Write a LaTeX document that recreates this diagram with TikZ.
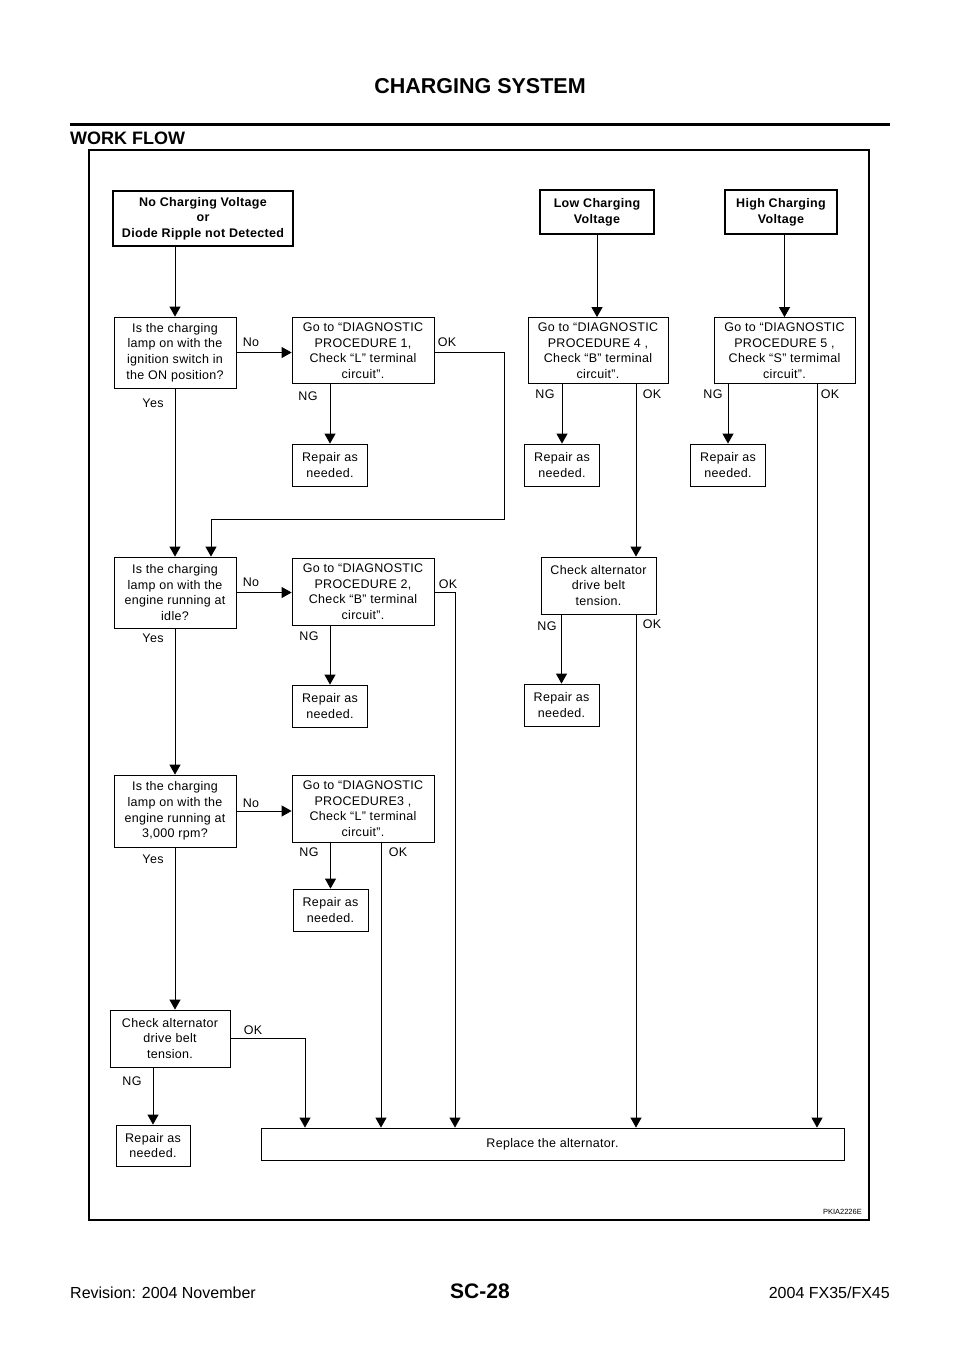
\documentclass[tikz,border=0pt]{standalone}
\usepackage{fontspec}
\setmainfont{Liberation Sans}
\newfontfamily\flowfont[LetterSpace=2.5]{Liberation Sans}
\usetikzlibrary{arrows.meta,calc}
\tikzset{pin/.style={-{Triangle[length=10pt,width=11pt]}, line width=0.9pt},
  blk/.style={draw, line width=0.8pt, align=center, inner sep=1pt,
    font=\flowfont\fontsize{12.5}{15.6}\selectfont},
  topblk/.style={blk, line width=2pt, font=\flowfont\bfseries\fontsize{12.5}{15.6}\selectfont},
  lbl/.style={inner sep=0pt, font=\flowfont\fontsize{12.5}{15}\selectfont}}

\begin{document}
\begin{tikzpicture}[x=1pt,y=-1pt]
  \useasboundingbox (0,0) rectangle (960,1358);
  % page head and frame
  \node[font=\bfseries\fontsize{21.5}{24}\selectfont] (head) at (480,86) {CHARGING SYSTEM};
  \draw[line width=3pt] (70,124) -- (890,124);
  \node[anchor=west, inner sep=0pt, font=\bfseries\fontsize{18}{20}\selectfont] (wf) at (70,138) {WORK FLOW};
  \draw[line width=1.8pt] (89,150) rectangle (869,1220);
  % symptoms
  \node[topblk, minimum width=180, minimum height=55] (A) at (203,218.5) {No Charging Voltage\\or\\Diode Ripple not Detected};
  \node[topblk, minimum width=114, minimum height=44] (B) at (597,212) {Low Charging\\Voltage};
  \node[topblk, minimum width=112, minimum height=44] (C) at (781,212) {High Charging\\Voltage};
  % first row
  \node[blk, minimum width=122, minimum height=71] (Q1) at (175,352.5) {Is the charging\\lamp on with the\\ignition switch in\\the ON position?};
  \node[blk, minimum width=142, minimum height=66] (P1) at (363,350.5) {Go to “DIAGNOSTIC\\PROCEDURE 1,\\Check “L” terminal\\circuit”.};
  \node[blk, minimum width=140, minimum height=66] (P4) at (598,350.5) {Go to “DIAGNOSTIC\\PROCEDURE 4 ,\\Check “B” terminal\\circuit”.};
  \node[blk, minimum width=141, minimum height=66] (P5) at (784.5,350.5) {Go to “DIAGNOSTIC\\PROCEDURE 5 ,\\Check “S” termimal\\circuit”.};
  \node[blk, minimum width=75, minimum height=42] (R1) at (330,465) {Repair as\\needed.};
  \node[blk, minimum width=75, minimum height=42] (R4) at (562,465) {Repair as\\needed.};
  \node[blk, minimum width=75, minimum height=42] (R5) at (728,465) {Repair as\\needed.};
  % second row
  \node[blk, minimum width=122, minimum height=71] (Q2) at (175,592.5) {Is the charging\\lamp on with the\\engine running at\\idle?};
  \node[blk, minimum width=142, minimum height=67] (P2) at (363,591.5) {Go to “DIAGNOSTIC\\PROCEDURE 2,\\Check “B” terminal\\circuit”.};
  \node[blk, minimum width=115, minimum height=57] (T1) at (598.5,585.5) {Check alternator\\drive belt\\tension.};
  \node[blk, minimum width=75, minimum height=42] (R2) at (330,706) {Repair as\\needed.};
  \node[blk, minimum width=75, minimum height=42] (R6) at (561.5,705) {Repair as\\needed.};
  % third row
  \node[blk, minimum width=122, minimum height=72] (Q3) at (175,811) {Is the charging\\lamp on with the\\engine running at\\3,000 rpm?};
  \node[blk, minimum width=142, minimum height=67] (P3) at (363,808.5) {Go to “DIAGNOSTIC\\PROCEDURE3 ,\\Check “L” terminal\\circuit”.};
  \node[blk, minimum width=75, minimum height=42] (R3) at (330.5,910) {Repair as\\needed.};
  % last row
  \node[blk, minimum width=120, minimum height=57] (T2) at (170,1038.5) {Check alternator\\drive belt\\tension.};
  \node[blk, minimum width=74, minimum height=41] (R7) at (153,1145.5) {Repair as\\needed.};
  \node[blk, minimum width=583, minimum height=32] (rep) at (552.5,1144) {Replace the alternator.};
  % columns into the last box
  \coordinate (c1) at (305,0);
  \coordinate (c3) at (381,0);
  \coordinate (c2) at (455,0);
  \coordinate (c4) at (636,0);
  \coordinate (c5) at (817,0);
  \coordinate (ok1) at (504,519);
  % connectors
  \draw[pin] (A.south -| Q1.north) -- (Q1.north);
  \draw[pin] (B.south) -- (B.south |- P4.north);
  \draw[pin] (C.south -| P5.north) -- (P5.north);
  \draw[pin] (Q1.east) -- (Q1.east -| P1.west);
  \draw[pin] (P1.south -| R1) -- (R1.north);
  \draw[pin] (Q1.east -| P1.east) -| (ok1) -| ($(Q2.north)+(36,0)$);
  \draw[pin] (Q1.south) -- (Q2.north);
  \draw[pin] (P4.south -| R4) -- (R4.north);
  \draw[pin] (P4.south -| c4) -- (T1.north -| c4);
  \draw[pin] (P5.south -| R5) -- (R5.north);
  \draw[pin] (P5.south -| c5) -- (rep.north -| c5);
  \draw[pin] (Q2.east) -- (Q2.east -| P2.west);
  \draw[pin] (P2.south -| R2) -- (R2.north);
  \draw[pin] (Q2.east -| P2.east) -| (rep.north -| c2);
  \draw[pin] (Q2.south) -- (Q3.north);
  \draw[pin] (T1.south -| R6) -- (R6.north);
  \draw[pin] (T1.south -| c4) -- (rep.north -| c4);
  \draw[pin] (Q3.east) -- (Q3.east -| P3.west);
  \draw[pin] (P3.south -| R3) -- (R3.north);
  \draw[pin] (P3.south -| c3) -- (rep.north -| c3);
  \draw[pin] (Q3.south) -- (Q3.south |- T2.north);
  \draw[pin] (T2.east) -| (rep.north -| c1);
  \draw[pin] (T2.south -| R7) -- (R7.north);
  % branch labels
  \foreach \t/\x/\y/\n in {No/251/342/no1, OK/447/342/ok1l, NG/308/396/ng1, Yes/153/403/yes1,
      NG/545/394/ng4, OK/652/394/ok4, NG/713/394/ng5, OK/830/394/ok5,
      No/251/582/no2, OK/448/584/ok2, NG/309/636/ng2, Yes/153/638/yes2,
      NG/547/626/ng6, OK/652/624/ok6,
      No/251/803/no3, NG/309/852/ng3, OK/398/852/ok3, Yes/153/859/yes3,
      OK/253/1030/ok7, NG/132/1081/ng7}
    \node[lbl] (\n) at (\x,\y) {\t};
  \node[anchor=east, inner sep=0pt, font=\fontsize{7.5}{8}\selectfont] (code) at (862,1212) {PKIA2226E};
  % page foot
  \node[anchor=west, inner sep=0pt, font=\fontsize{16}{18}\selectfont] (rev) at (70,1293) {Revision: 2004 November};
  \node[font=\bfseries\fontsize{21}{24}\selectfont] (pg) at (480,1291) {SC-28};
  \node[anchor=east, inner sep=0pt, font=\fontsize{16}{18}\selectfont] (car) at (890,1293) {2004 FX35/FX45};
\end{tikzpicture}
\end{document}
